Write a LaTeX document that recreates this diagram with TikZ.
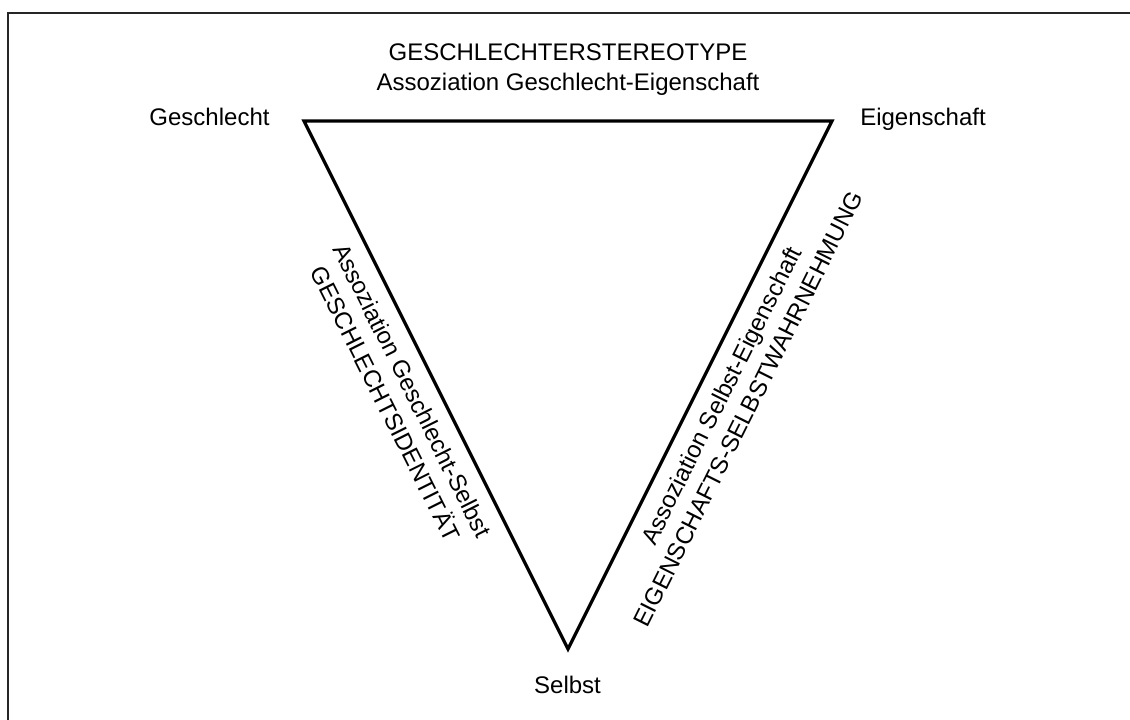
\documentclass[tikz,border=0pt]{standalone}
\usepackage{fontspec}
\setmainfont{Liberation Sans}
\usepackage{tikz}

\tikzset{
  lbl/.style={font=\fontsize{24}{30}\selectfont, inner sep=0pt},
  sidelbl/.style={lbl, sloped, align=center, below=14.5pt}
}

\begin{document}
\begin{tikzpicture}[x=1pt, y=1pt]
  \useasboundingbox (0,0) rectangle (1130,720);
  \clip (0,0) rectangle (1130,720);
  % frame, cut off at the right and at the bottom
  \draw[line width=2pt, black!85] (7.5,-20) rectangle (1150,706.5);
  % corners
  \coordinate (g) at (304,599);
  \coordinate (e) at (832,599);
  \coordinate (s) at (568,71);
  \draw[line width=3.2pt] (g) -- (e) -- (s) -- cycle;
  % corner labels
  \foreach \x/\y/\nm/\txt in {209.5/594/geschlecht/Geschlecht,
                              923/594/eigenschaft/Eigenschaft,
                              567.5/26/selbst/Selbst}
    \node[lbl, anchor=base] (\nm) at (\x,\y) {\txt};
  % top label
  \node[lbl, align=center, anchor=north] (stereo) at (568,676.5)
    {GESCHLECHTERSTEREOTYPE\\Assoziation Geschlecht-Eigenschaft};
  % side labels
  \path (g) -- (s) node[sidelbl, pos=0.49] (identitaet)
    {Assoziation Geschlecht-Selbst\\GESCHLECHTSIDENTITÄT};
  \path (s) -- (e) node[sidelbl, pos=0.5] (wahrnehmung)
    {Assoziation Selbst-Eigenschaft\\EIGENSCHAFTS-SELBSTWAHRNEHMUNG};
\end{tikzpicture}
\end{document}
